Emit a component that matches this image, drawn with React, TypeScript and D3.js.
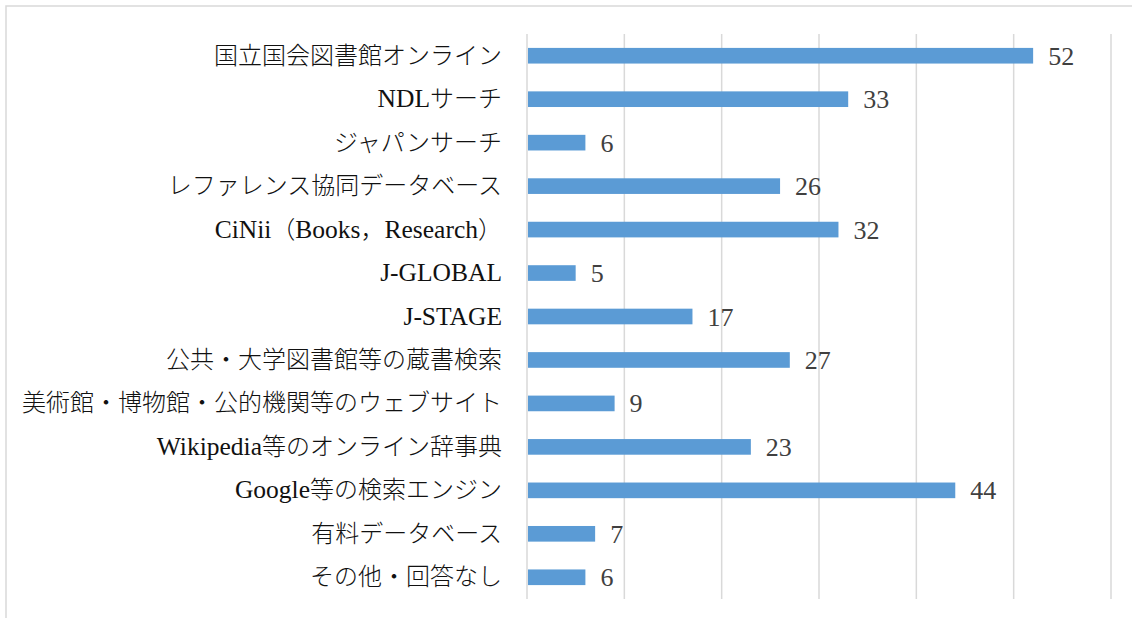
import React from "react";
import * as d3 from "d3";

const categories = [
  "国立国会図書館オンライン",
  "NDLサーチ",
  "ジャパンサーチ",
  "レファレンス協同データベース",
  "CiNii（Books，Research）",
  "J-GLOBAL",
  "J-STAGE",
  "公共・大学図書館等の蔵書検索",
  "美術館・博物館・公的機関等のウェブサイト",
  "Wikipedia等のオンライン辞事典",
  "Google等の検索エンジン",
  "有料データベース",
  "その他・回答なし",
];
const values = [52, 33, 6, 26, 32, 5, 17, 27, 9, 23, 44, 7, 6];
const gridTicks = [0, 10, 20, 30, 40, 50, 60];

const W = 1132;
const H = 618;
const plotLeft = 527;
const plotRight = 1111;
const plotTop = 34;
const plotBottom = 599;
const LATIN = "'Liberation Serif', serif";
const CJK = "'Noto Sans CJK JP', sans-serif";

function runs(s: string) {
  const out: { t: string; latin: boolean }[] = [];
  for (const ch of s) {
    const latin = ch.charCodeAt(0) < 0x2000;
    const last = out[out.length - 1];
    if (last && last.latin === latin) last.t += ch;
    else out.push({ t: ch, latin });
  }
  return out;
}

export default function App() {
  const x = d3.scaleLinear().domain([0, 60]).range([plotLeft, plotRight]);
  const y = d3
    .scaleBand<string>()
    .domain(categories)
    .range([plotTop, plotBottom])
    .paddingInner(0.64)
    .paddingOuter(0.32);
  const bh = y.bandwidth();
  return (
    <svg
      width={W}
      height={H}
      style={{ position: "absolute", left: 0, top: 0, background: "#fff" }}
    >
      <rect x={6} y={6} width={W} height={H} fill="#fff" stroke="#d9d9d9" strokeWidth={1.5} />
      {gridTicks.map((t) => (
        <line
          key={t}
          x1={x(t)}
          x2={x(t)}
          y1={plotTop}
          y2={plotBottom}
          stroke="#d9d9d9"
          strokeWidth={1.5}
        />
      ))}
      {categories.map((c, i) => {
        const yc = (y(c) ?? 0) + bh / 2;
        return (
          <g key={c}>
            <rect
              x={x(0) + 1}
              y={y(c) ?? 0}
              width={x(values[i]) - x(0) - 1}
              height={bh}
              fill="#5b9bd5"
            />
            <text
              x={502}
              y={yc + 8}
              textAnchor="end"
              fill="#111"
            >
              {runs(c).map((r, k) =>
                r.latin ? (
                  <tspan key={k} fontFamily={LATIN} fontSize={25.5}>
                    {r.t}
                  </tspan>
                ) : (
                  <tspan key={k} fontFamily={CJK} fontSize={24} fontWeight={300}>
                    {r.t}
                  </tspan>
                )
              )}
            </text>
            <text
              x={x(values[i]) + 15}
              y={yc + 9}
              fontFamily={LATIN}
              fontSize={26}
              fill="#404040"
            >
              {values[i]}
            </text>
          </g>
        );
      })}
    </svg>
  );
}
